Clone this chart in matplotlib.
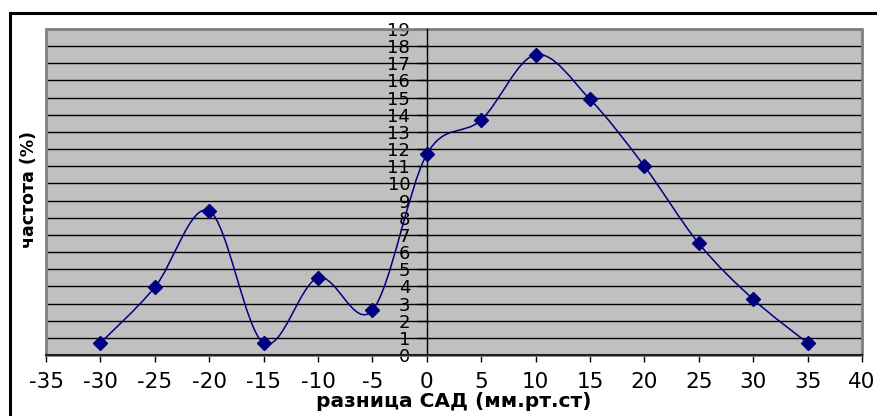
import numpy as np
import matplotlib
matplotlib.use("Agg")
import matplotlib.pyplot as plt
from matplotlib.path import Path
from matplotlib.patches import PathPatch, Rectangle
from matplotlib.lines import Line2D

plt.rcParams['font.family'] = ['DejaVu Sans']

# данные
raznica = [-30, -25, -20, -15, -10, -5, 0, 5, 10, 15, 20, 25, 30, 35]
chastota = [0.7, 3.95, 8.4, 0.7, 4.5, 2.6, 11.7, 13.7, 17.5, 14.9, 11.0, 6.5, 3.25, 0.7]
x_ticks = list(range(-35, 41, 5))
y_ticks = list(range(0, 20))

NAVY = '#000080'


def sglazhivanie(xs, ys):
    # сглаженная линия как в Excel (Catmull-Rom -> кривые Безье)
    pts = np.column_stack([xs, ys]).astype(float)
    ext = np.vstack([pts[0], pts, pts[-1]])
    verts = [tuple(pts[0])]
    codes = [Path.MOVETO]
    for i in range(1, len(ext) - 2):
        p0, p1, p2, p3 = ext[i - 1], ext[i], ext[i + 1], ext[i + 2]
        c1 = p1 + (p2 - p0) / 6.0
        c2 = p2 - (p3 - p1) / 6.0
        verts += [tuple(c1), tuple(c2), tuple(p2)]
        codes += [Path.CURVE4] * 3
    return Path(verts, codes)


fig = plt.figure(figsize=(8.77, 4.16), dpi=100)
ax = fig.add_axes([46 / 877, 1 - 355 / 416, (862 - 46) / 877, (355 - 29) / 416])
ax.set_facecolor('#C0C0C0')

ax.set_xlim(-35, 40)
ax.set_ylim(0, 19)

# сетка только горизонтальная
for yv in y_ticks[1:]:
    ax.axhline(yv, color='black', lw=1.0, zorder=1)

# рамка области построения
ax.add_patch(Rectangle((0, 0), 1, 1, transform=ax.transAxes, fill=False,
                       edgecolor='#808080', lw=2, zorder=2, clip_on=False))

ax.add_patch(PathPatch(sglazhivanie(raznica, chastota), facecolor='none',
                       edgecolor=NAVY, lw=1.1, zorder=4))
ax.plot(raznica, chastota, linestyle='none', marker='D', markersize=7,
        color=NAVY, zorder=5)

for s in ['top', 'right']:
    ax.spines[s].set_visible(False)
ax.spines['left'].set_position(('data', 0))
ax.spines['left'].set_color('black')
ax.spines['left'].set_linewidth(1.0)
ax.spines['left'].set_zorder(3)
ax.spines['bottom'].set_color('#202020')
ax.spines['bottom'].set_linewidth(1.5)
ax.spines['bottom'].set_zorder(3)

ax.set_xticks(x_ticks)
ax.set_xticklabels([str(v) for v in x_ticks])
ax.set_yticks(y_ticks)
ax.set_yticklabels([str(v) for v in y_ticks])
ax.tick_params(axis='x', direction='out', length=5, width=1, labelsize=15.5, pad=7)
ax.tick_params(axis='y', direction='out', length=7, width=1, labelsize=13, pad=5)
for lab in ax.get_yticklabels():
    lab.set_zorder(6)

ax.set_xlabel('разница САД (мм.рт.ст)', fontsize=14.5, fontweight='bold', labelpad=0)
fig.text(29 / 877, 1 - 190 / 416, 'частота (%)', rotation=90, fontsize=12.5,
         fontweight='bold', ha='center', va='center')

# внешняя рамка диаграммы
fig.add_artist(Line2D([9.5 / 877, 1.0], [1 - 12.5 / 416, 1 - 12.5 / 416],
                      transform=fig.transFigure, color='black', lw=2.2))
fig.add_artist(Line2D([9.5 / 877, 9.5 / 877], [0.0, 1 - 12.5 / 416],
                      transform=fig.transFigure, color='black', lw=2.2))

fig.savefig('out.png', dpi=100)
